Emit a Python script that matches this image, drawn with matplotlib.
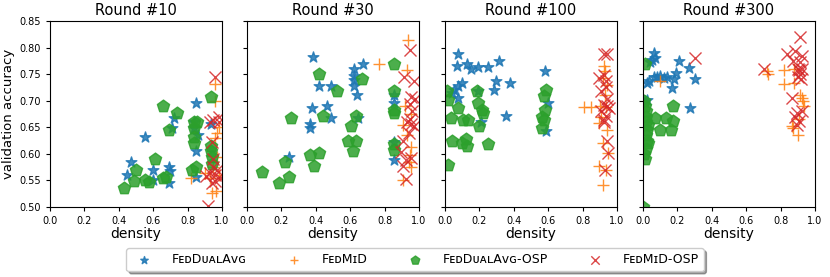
import matplotlib
matplotlib.use('Agg')
import numpy as np
import matplotlib.pyplot as plt

# rounds shown in the four panels
rounds = ['Round #10', 'Round #30', 'Round #100', 'Round #300']
methods = ['FᴇᴅDᴜᴀʟAᴠɢ', 'FᴇᴅMɪD', 'FᴇᴅDᴜᴀʟAᴠɢ-OSP', 'FᴇᴅMɪD-OSP']

# (density, validation accuracy), per round / method
r10_fda = [(0.47, 0.584), (0.45, 0.56), (0.55, 0.631), (0.60, 0.57), (0.60, 0.551),
           (0.69, 0.576), (0.69, 0.546), (0.70, 0.567), (0.72, 0.667), (0.71, 0.648),
           (0.85, 0.695), (0.835, 0.66), (0.84, 0.648), (0.86, 0.636), (0.85, 0.606),
           (0.85, 0.557), (0.935, 0.657)]
r10_fmd = [(0.82, 0.554), (0.96, 0.732), (0.96, 0.70), (0.98, 0.65), (0.96, 0.63),
           (0.97, 0.595), (0.94, 0.526), (0.965, 0.53), (0.90, 0.564), (0.93, 0.555),
           (0.97, 0.64), (0.95, 0.575), (0.98, 0.56)]
r10_fda_osp = [(0.43, 0.536), (0.49, 0.548), (0.50, 0.569), (0.55, 0.55), (0.575, 0.547),
               (0.61, 0.59), (0.66, 0.69), (0.66, 0.554), (0.675, 0.556), (0.69, 0.644),
               (0.74, 0.676), (0.825, 0.57), (0.85, 0.576), (0.84, 0.66), (0.84, 0.648),
               (0.835, 0.632), (0.835, 0.62), (0.855, 0.66), (0.935, 0.707), (0.935, 0.614),
               (0.935, 0.605), (0.94, 0.595), (0.94, 0.58)]
r10_fmd_osp = [(0.96, 0.745), (0.92, 0.501), (0.95, 0.664), (0.98, 0.67), (0.93, 0.66),
               (0.94, 0.623), (0.95, 0.59), (0.93, 0.564), (0.96, 0.548), (0.97, 0.57),
               (0.91, 0.558), (0.99, 0.555), (0.95, 0.575), (0.96, 0.56), (0.94, 0.545),
               (0.98, 0.66)]

r30_fda = [(0.384, 0.7825), (0.42, 0.7275), (0.49, 0.7275), (0.675, 0.77), (0.625, 0.759),
           (0.62, 0.746), (0.625, 0.739), (0.62, 0.727), (0.64, 0.71), (0.38, 0.686),
           (0.465, 0.69), (0.487, 0.667), (0.365, 0.657), (0.365, 0.648), (0.645, 0.667),
           (0.245, 0.594), (0.853, 0.71), (0.853, 0.695), (0.853, 0.623), (0.853, 0.589)]
r30_fmd = [(0.77, 0.77), (0.936, 0.815), (0.932, 0.7575), (0.92, 0.69), (0.905, 0.655),
           (0.955, 0.675), (0.955, 0.612), (0.945, 0.597), (0.905, 0.55), (0.955, 0.575),
           (0.94, 0.585), (0.93, 0.635)]
r30_fda_osp = [(0.087, 0.565), (0.184, 0.546), (0.245, 0.556), (0.22, 0.584), (0.254, 0.667),
               (0.364, 0.598), (0.388, 0.578), (0.42, 0.601), (0.42, 0.75), (0.44, 0.671),
               (0.523, 0.719), (0.667, 0.741), (0.607, 0.652), (0.636, 0.671), (0.59, 0.625),
               (0.632, 0.625), (0.617, 0.606), (0.855, 0.769), (0.855, 0.719), (0.855, 0.6825),
               (0.855, 0.676), (0.855, 0.619), (0.855, 0.608)]
r30_fmd_osp = [(0.95, 0.796), (0.915, 0.744), (0.97, 0.738), (0.955, 0.707), (0.945, 0.694),
               (0.975, 0.703), (0.945, 0.665), (0.955, 0.656), (0.97, 0.652), (0.905, 0.625),
               (0.895, 0.603), (0.925, 0.588), (0.905, 0.577), (0.925, 0.553), (0.955, 0.592),
               (0.94, 0.64), (0.96, 0.68), (0.93, 0.66)]

r100_fda = [(0.074, 0.7875), (0.068, 0.765), (0.13, 0.769), (0.15, 0.759), (0.19, 0.764),
            (0.253, 0.764), (0.312, 0.774), (0.58, 0.756), (0.097, 0.733), (0.078, 0.727),
            (0.296, 0.737), (0.283, 0.721), (0.376, 0.7325), (0.039, 0.715), (0.078, 0.705),
            (0.6, 0.696), (0.355, 0.672), (0.59, 0.643), (0.05, 0.72), (0.21, 0.66),
            (0.19, 0.718)]
r100_fmd = [(0.81, 0.689), (0.85, 0.689), (0.925, 0.765), (0.93, 0.755), (0.92, 0.743),
            (0.945, 0.73), (0.93, 0.711), (0.9, 0.69), (0.935, 0.688), (0.905, 0.67),
            (0.895, 0.659), (0.94, 0.645), (0.92, 0.62), (0.95, 0.601), (0.895, 0.578),
            (0.935, 0.569), (0.92, 0.542)]
r100_fda_osp = [(0.01, 0.719), (0.02, 0.701), (0.078, 0.686), (0.035, 0.667), (0.185, 0.718),
                (0.195, 0.696), (0.215, 0.683), (0.224, 0.677), (0.107, 0.663), (0.136, 0.663),
                (0.2, 0.653), (0.039, 0.624), (0.097, 0.62), (0.127, 0.614), (0.123, 0.628),
                (0.253, 0.619), (0.02, 0.579), (0.585, 0.721), (0.575, 0.708), (0.58, 0.683),
                (0.565, 0.67), (0.575, 0.664), (0.565, 0.649)]
r100_fmd_osp = [(0.925, 0.7875), (0.945, 0.7875), (0.895, 0.742), (0.925, 0.748), (0.935, 0.738),
                (0.91, 0.718), (0.935, 0.725), (0.945, 0.704), (0.925, 0.691), (0.955, 0.686),
                (0.905, 0.68), (0.935, 0.672), (0.925, 0.664), (0.945, 0.625), (0.95, 0.602),
                (0.93, 0.569), (0.925, 0.66), (0.94, 0.69)]

r300_fda = [(0.065, 0.79), (0.052, 0.776), (0.039, 0.773), (0.072, 0.781), (0.207, 0.775),
            (0.265, 0.761), (0.193, 0.753), (0.303, 0.741), (0.033, 0.738), (0.062, 0.744),
            (0.1, 0.746), (0.14, 0.744), (0.178, 0.74), (0.023, 0.733), (0.168, 0.723),
            (0.023, 0.701), (0.275, 0.686), (0.08, 0.745), (0.12, 0.742), (0.01, 0.70)]
r300_fmd = [(0.1, 0.737), (0.725, 0.751), (0.82, 0.757), (0.88, 0.76), (0.88, 0.733),
            (0.82, 0.731), (0.915, 0.71), (0.925, 0.706), (0.935, 0.69), (0.865, 0.652),
            (0.875, 0.648), (0.9, 0.635), (0.93, 0.70), (0.91, 0.665), (0.72, 0.755)]
r300_fda_osp = [(0.01, 0.77), (0.005, 0.70), (0.01, 0.69), (0.015, 0.68), (0.02, 0.67),
                (0.02, 0.66), (0.03, 0.655), (0.025, 0.645), (0.02, 0.635), (0.025, 0.625),
                (0.03, 0.62), (0.015, 0.61), (0.01, 0.59), (0.005, 0.60), (0.0, 0.50),
                (0.172, 0.69), (0.068, 0.667), (0.135, 0.667), (0.172, 0.661), (0.1, 0.644),
                (0.164, 0.644)]
r300_fmd_osp = [(0.304, 0.78), (0.706, 0.76), (0.913, 0.82), (0.836, 0.788), (0.885, 0.794),
                (0.925, 0.785), (0.875, 0.775), (0.915, 0.772), (0.91, 0.757), (0.9, 0.745),
                (0.925, 0.76), (0.915, 0.75), (0.92, 0.74), (0.865, 0.705), (0.895, 0.677),
                (0.885, 0.67), (0.91, 0.662), (0.895, 0.655), (0.925, 0.68), (0.9, 0.76)]

panels = [
    [r10_fda, r10_fmd, r10_fda_osp, r10_fmd_osp],
    [r30_fda, r30_fmd, r30_fda_osp, r30_fmd_osp],
    [r100_fda, r100_fmd, r100_fda_osp, r100_fmd_osp],
    [r300_fda, r300_fmd, r300_fda_osp, r300_fmd_osp],
]

colours = ['#1f77b4', '#ff7f0e', '#2ca02c', '#d62728']
markers = ['*', '+', 'p', 'x']
sizes = [65, 75, 85, 75]

fig = plt.figure(figsize=(8.3, 2.77), dpi=100)
lefts = [0.0602, 0.2976, 0.5361, 0.7747]

handles = []
for i, (title, series) in enumerate(zip(rounds, panels)):
    ax = fig.add_axes([lefts[i], 0.2527, 0.2072, 0.6715])
    for pts, c, m, s, name in zip(series, colours, markers, sizes, methods):
        arr = np.array(pts)
        h = ax.scatter(arr[:, 0], arr[:, 1], c=c, marker=m, s=s, alpha=0.85,
                       linewidths=1.0, label=name)
        if i == 0:
            handles.append(h)
    ax.set_xlim(0, 1)
    ax.set_ylim(0.5, 0.85)
    ax.set_xticks(np.arange(0, 1.01, 0.2))
    ax.set_yticks(np.arange(0.5, 0.851, 0.05))
    ax.tick_params(labelsize=7, length=3)
    ax.set_title(title, fontsize=10.5, pad=4)
    ax.set_xlabel('density', fontsize=10, labelpad=1)
    if i == 0:
        ax.set_ylabel('validation accuracy', fontsize=9.5, labelpad=3)
    else:
        ax.set_yticklabels([])

fig.legend(handles, methods, loc='center', bbox_to_anchor=(0.5, 0.063), ncol=4,
           fontsize=9, shadow=True, handletextpad=1.2, columnspacing=2.8,
           markerscale=0.7, borderpad=0.4)

fig.savefig('out.png', dpi=100)
